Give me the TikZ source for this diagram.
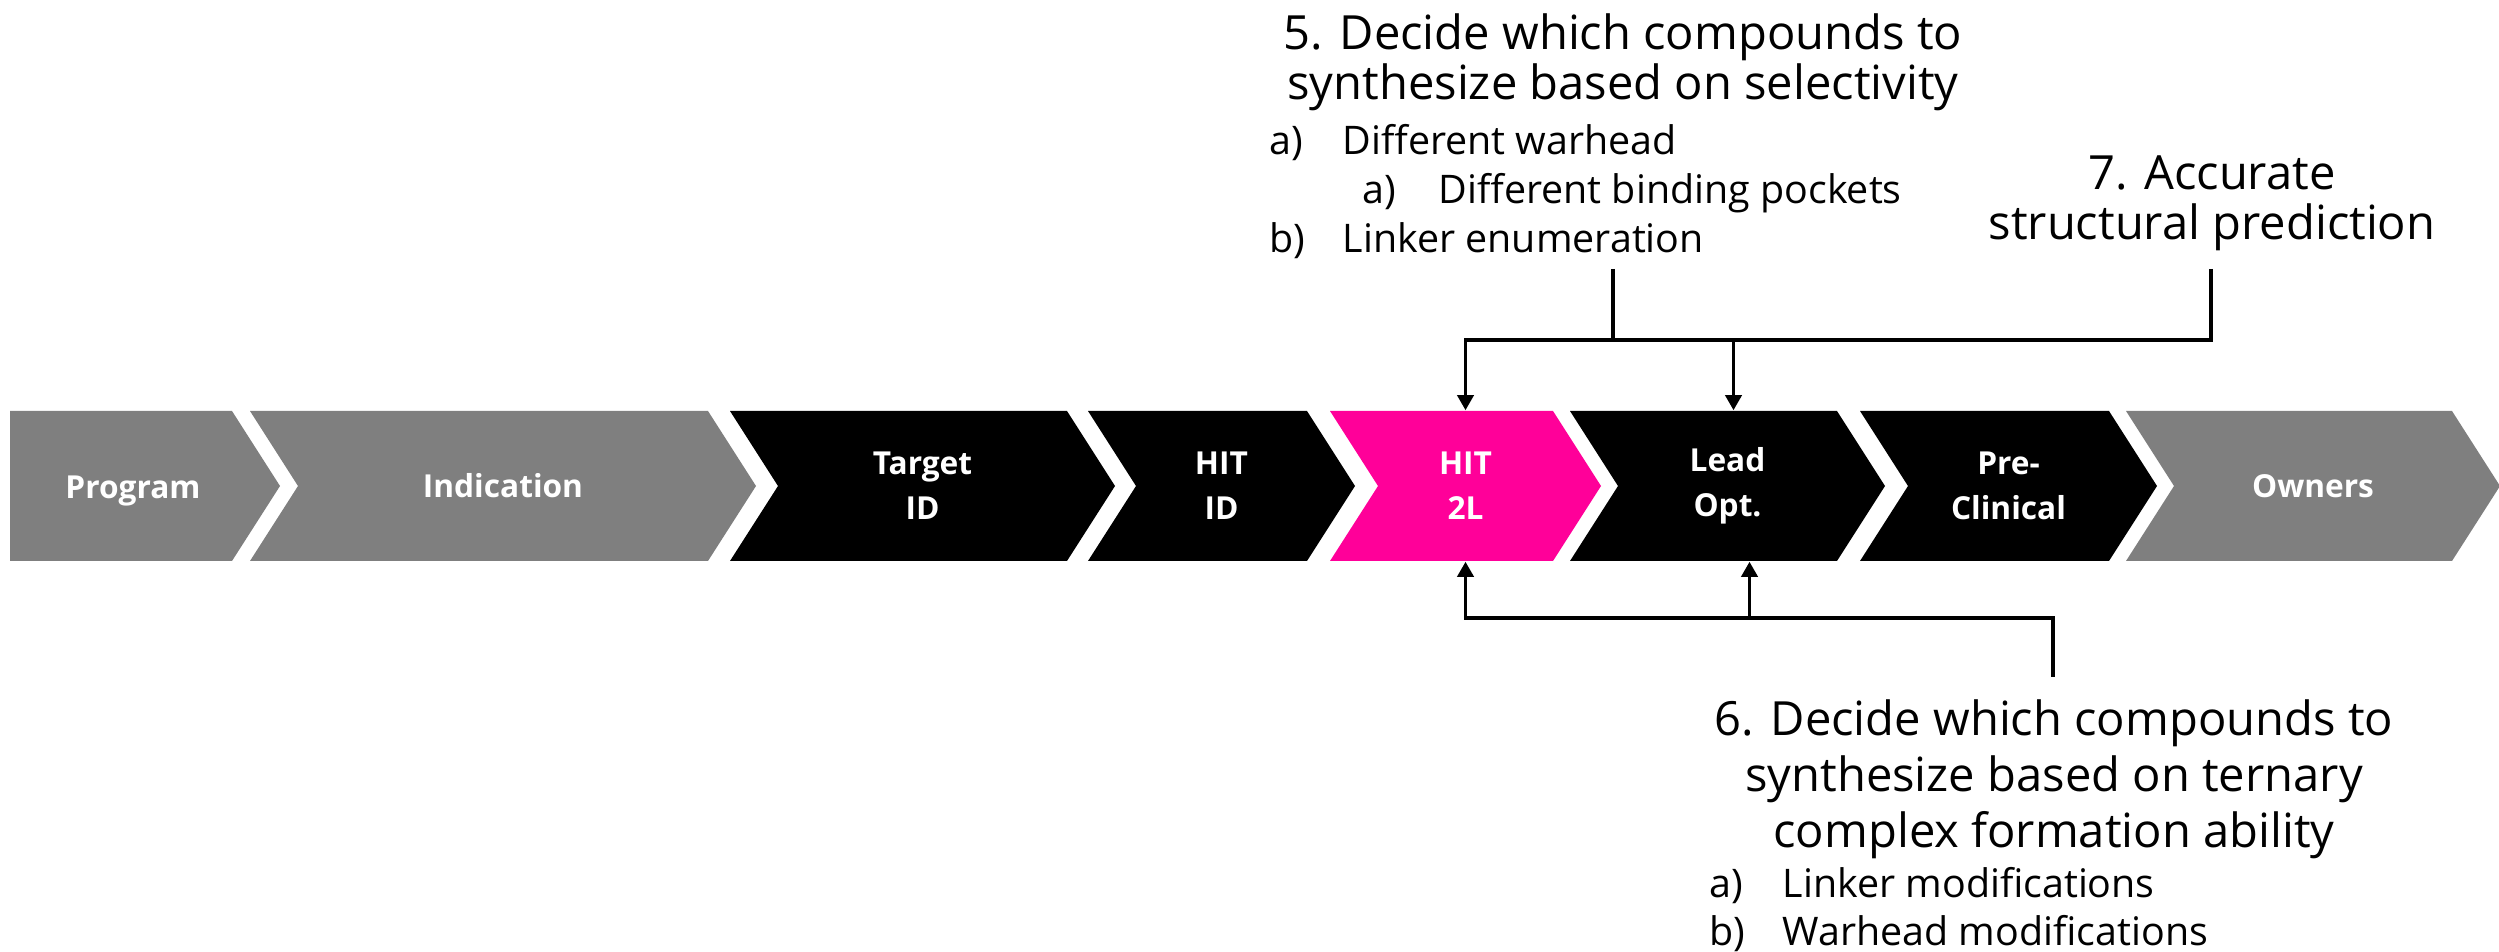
\documentclass[tikz,border=0pt]{standalone}
\usepackage{fontspec}
\setmainfont{Open Sans}
\usetikzlibrary{arrows.meta}
\definecolor{stagegray}{HTML}{7F7F7F}
\definecolor{stagepink}{HTML}{FF0099}

\begin{document}
\begin{tikzpicture}[x=0.01cm, y=-0.01cm,
    stage/.style={text=white, font=\fontsize{9}{12.8}\selectfont\bfseries, align=center,
                  inner sep=0pt, minimum height=1.5cm},
    head/.style={font=\fontsize{13.4}{14.5}\selectfont, align=center, inner sep=0pt, anchor=base},
    items/.style={font=\fontsize{11.2}{14}\selectfont, align=left, inner sep=0pt, anchor=base west},
    line/.style={line width=1pt},
    link/.style={line width=1pt, -{Triangle[length=1.5mm, width=1.6mm]}}]
    \useasboundingbox (0,0) rectangle (2499,952);

    % pipeline stages
    \foreach \nm/\xl/\xr/\nd/\col/\txt/\dx/\dy in {
        prog/10/232/0/stagegray/Program/-12/5,
        ind/250/708/48/stagegray/Indication/0/0,
        tgt/730/1067/48/black/{Target\\ID}/0/0,
        hitid/1088/1307/48/black/{HIT\\ID}/0/0,
        hit/1330/1553/48/stagepink/{HIT\\2L}/0/0,
        lead/1570/1837/48/black/{Lead\\Opt.}/0/0,
        pre/1860/2109/48/black/{Pre-\\Clinical}/0/0,
        own/2126/2452/48/stagegray/Owners/0/0}
    {
        \fill[\col] (\xl,411) -- (\xr,411) -- (\xr+48,486) -- (\xr,561)
            -- (\xl,561) -- (\xl+\nd,486) -- cycle;
        \node[stage] (\nm) at ({(\xl+\xr+48)/2+\dx},486+\dy) {\txt};
    }

    % notes (anchored on their last line)
    \node[head] (h5) at (1623,100) {5. Decide which compounds to\\synthesize based on selectivity};
    \node[items] (l5) at (1269,253) {\makebox[0.73cm][l]{a)}Different warhead\\
        \hspace*{0.93cm}\makebox[0.76cm][l]{a)}Different binding pockets\\
        \makebox[0.73cm][l]{b)}Linker enumeration};
    \node[head] (h7) at (2212,240) {7. Accurate\\structural prediction};
    \node[head, font=\fontsize{13.4}{15.9}\selectfont] (h6) at (2054,847)
        {6. Decide which compounds to\\synthesize based on ternary\\complex formation ability};
    \node[items, font=\fontsize{11.2}{13.4}\selectfont] (l6) at (1709,945)
        {\makebox[0.73cm][l]{a)}Linker modifications\\\makebox[0.73cm][l]{b)}Warhead modifications};

    \coordinate (s5) at (1613,269);
    \coordinate (j5) at (1613,340);
    \coordinate (s7) at (2211,269);
    \coordinate (s6) at (2053,677);
    \coordinate (j6) at (2053,618);

    \draw[link] (s5) -- (j5) -| (hit.north);
    \draw[link] (j5) -| ([xshift=0.06cm]lead.north);
    \draw[line] (s7) |- (j5);
    \draw[link] (s6) -- (j6) -| (hit.south);
    \draw[link] (j6) -| ([xshift=0.22cm]lead.south);
\end{tikzpicture}
\end{document}
